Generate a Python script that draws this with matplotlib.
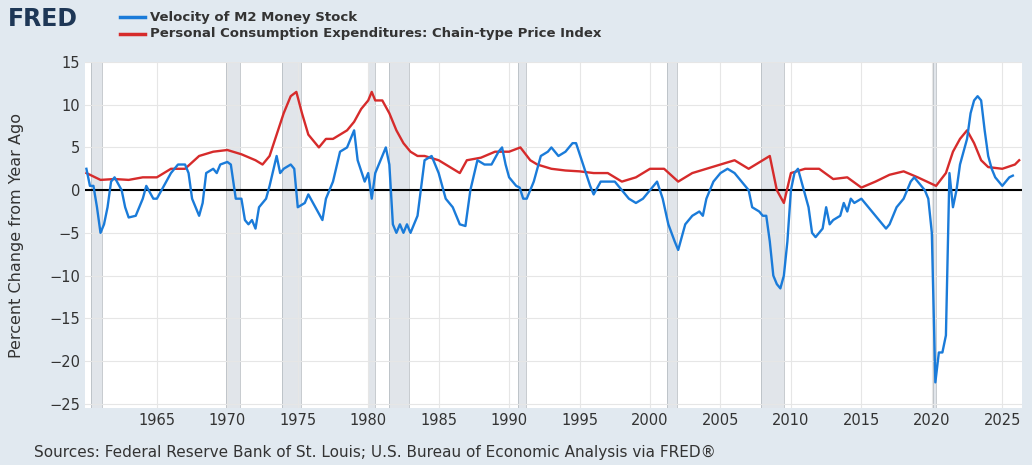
import matplotlib
matplotlib.use("Agg")
import matplotlib.pyplot as plt
import numpy as np

# Velocity of M2, % change from year ago
vel_t = [1960.0, 1960.25, 1960.5, 1960.75, 1961.0, 1961.25, 1961.5, 1961.75, 1962.0, 1962.5, 1962.75, 1963.0, 1963.5,
         1964.0, 1964.25, 1964.75, 1965.0, 1965.5, 1966.0, 1966.5, 1967.0, 1967.25, 1967.5, 1968.0, 1968.25, 1968.5,
         1969.0, 1969.25, 1969.5, 1970.0, 1970.25, 1970.6, 1971.0, 1971.25, 1971.5, 1971.75, 1972.0, 1972.25, 1972.75,
         1973.0, 1973.5, 1973.75, 1974.0, 1974.5, 1974.75, 1975.0, 1975.5, 1975.75, 1976.25, 1976.75, 1977.0, 1977.5,
         1978.0, 1978.5, 1979.0, 1979.25, 1979.75, 1980.0, 1980.25, 1980.5, 1981.0, 1981.25, 1981.5, 1981.75, 1982.0,
         1982.25, 1982.5, 1982.75, 1983.0, 1983.5, 1984.0, 1984.5, 1985.0, 1985.5, 1986.0, 1986.5, 1986.9, 1987.25,
         1987.75, 1988.25, 1988.75, 1989.25, 1989.5, 1989.75, 1990.0, 1990.5, 1990.75, 1991.0, 1991.25, 1991.75,
         1992.25, 1992.75, 1993.0, 1993.5, 1994.0, 1994.5, 1994.75, 1995.25, 1995.75, 1996.0, 1996.5, 1997.0, 1997.5,
         1998.0, 1998.5, 1999.0, 1999.5, 2000.0, 2000.5, 2000.9, 2001.3, 2001.75, 2002.0, 2002.5, 2003.0, 2003.5,
         2003.75, 2004.0, 2004.5, 2005.0, 2005.5, 2006.0, 2006.5, 2007.0, 2007.25, 2007.75, 2008.0, 2008.25, 2008.5,
         2008.75, 2009.0, 2009.25, 2009.5, 2009.75, 2010.0, 2010.25, 2010.5, 2010.75, 2011.25, 2011.5, 2011.75, 2012.0,
         2012.25, 2012.5, 2012.75, 2013.0, 2013.5, 2013.75, 2014.0, 2014.25, 2014.5, 2015.0, 2015.5, 2016.0, 2016.5,
         2016.75, 2017.0, 2017.5, 2018.0, 2018.5, 2018.75, 2019.0, 2019.5, 2019.75, 2020.0, 2020.25, 2020.5, 2020.75,
         2021.0, 2021.25, 2021.5, 2021.75, 2022.0, 2022.5, 2022.75, 2023.0, 2023.25, 2023.5, 2023.75, 2024.0, 2024.25,
         2024.5, 2024.75, 2025.0, 2025.25, 2025.5, 2025.75]
vel_v = [2.5, 0.5, 0.5, -2, -5, -4, -2, 1, 1.5, 0, -2, -3.2, -3, -1, 0.5, -1, -1, 0.5, 2, 3, 3, 2, -1, -3, -1.5, 2,
         2.5, 2, 3, 3.3, 3, -1, -1, -3.5, -4, -3.5, -4.5, -2, -1, 0.5, 4, 2, 2.5, 3, 2.5, -2, -1.5, -0.5, -2, -3.5,
         -1, 1, 4.5, 5, 7, 3.5, 1, 2, -1, 2, 4, 5, 3, -4, -5, -4, -5, -4, -5, -3, 3.5, 4, 2, -1, -2, -4, -4.2, 0,
         3.5, 3, 3, 4.5, 5, 3, 1.5, 0.5, 0.3, -1, -1, 1, 4, 4.5, 5, 4, 4.5, 5.5, 5.5, 3, 0.5, -0.5, 1, 1, 1,
         0, -1, -1.5, -1, 0, 1, -1, -4, -6, -7, -4, -3, -2.5, -3, -1, 1, 2, 2.5, 2, 1, 0, -2, -2.5, -3, -3, -6,
         -10, -11, -11.5, -10, -6, 0, 2, 2.5, 1, -2, -5, -5.5, -5, -4.5, -2, -4, -3.5, -3, -1.5, -2.5, -1, -1.5,
         -1, -2, -3, -4, -4.5, -4, -2, -1, 1, 1.5, 1, 0, -1, -5, -22.5, -19, -19, -17, 2, -2, 0, 3, 6, 9, 10.5, 11,
         10.5, 7, 4, 2.5, 1.5, 1, 0.5, 1, 1.5, 1.7]

# PCE chain-type price index, % change from year ago
pce_t = [1960.0, 1961.0, 1962.0, 1963.0, 1964.0, 1965.0, 1966.0, 1967.0, 1968.0, 1969.0, 1970.0, 1971.0, 1972.0,
         1972.5, 1973.0, 1973.5, 1974.0, 1974.5, 1974.9, 1975.3, 1975.75, 1976.0, 1976.5, 1977.0, 1977.5, 1978.0,
         1978.5, 1979.0, 1979.5, 1980.0, 1980.25, 1980.5, 1981.0, 1981.5, 1982.0, 1982.5, 1983.0, 1983.5, 1984.0,
         1985.0, 1986.0, 1986.5, 1987.0, 1988.0, 1989.0, 1990.0, 1990.8, 1991.5, 1992.0, 1993.0, 1994.0, 1995.0,
         1996.0, 1997.0, 1998.0, 1999.0, 2000.0, 2001.0, 2002.0, 2003.0, 2004.0, 2005.0, 2006.0, 2007.0, 2008.5,
         2009.0, 2009.5, 2010.0, 2011.0, 2012.0, 2013.0, 2014.0, 2015.0, 2016.0, 2017.0, 2018.0, 2019.0, 2020.3,
         2021.0, 2021.5, 2022.0, 2022.5, 2023.0, 2023.5, 2024.0, 2025.0, 2025.9, 2026.2]
pce_v = [2, 1.2, 1.3, 1.2, 1.5, 1.5, 2.5, 2.5, 4, 4.5, 4.7, 4.2, 3.5, 3, 4, 6.5, 9, 11, 11.5, 9, 6.5, 6, 5, 6, 6,
         6.5, 7, 8, 9.5, 10.5, 11.5, 10.5, 10.5, 9, 7, 5.5, 4.5, 4, 4, 3.5, 2.5, 2, 3.5, 3.8, 4.5, 4.5, 5, 3.5, 3,
         2.5, 2.3, 2.2, 2, 2, 1, 1.5, 2.5, 2.5, 1, 2, 2.5, 3, 3.5, 2.5, 4, 0, -1.5, 2, 2.5, 2.5, 1.3, 1.5, 0.3, 1,
         1.8, 2.2, 1.5, 0.5, 2, 4.5, 6, 7, 5.5, 3.5, 2.7, 2.5, 3, 3.5]

recessions = [(1960.3, 1961.1), (1969.9, 1970.9), (1973.9, 1975.2), (1980.0, 1980.5), (1981.5, 1982.9),
              (1990.6, 1991.2), (2001.2, 2001.9), (2007.9, 2009.5), (2020.1, 2020.3)]

BG = "#e1e9f0"
fig = plt.figure(figsize=(10.32, 4.65), dpi=100, facecolor=BG)
ax = fig.add_axes([85/1032, 1 - 408/465, 937/1032, 346/465])
ax.set_facecolor("white")

for a, b in recessions:
    ax.axvspan(a, b, color="#e1e5ea", zorder=0, lw=0)
    ax.axvline(a, color="#b0b6bc", lw=0.5, zorder=0)
    ax.axvline(b, color="#b0b6bc", lw=0.5, zorder=0)

ax.axhline(0, color="black", lw=1.5, zorder=2)
ax.plot(pce_t, pce_v, color="#d62b2b", lw=1.7, zorder=3)
ax.plot(vel_t, vel_v, color="#1a7bd9", lw=1.7, zorder=4)

ax.set_xlim(1959.9, 2026.4)
ax.set_ylim(-25.5, 15)
ax.set_yticks(range(-25, 16, 5))
ax.set_xticks(range(1965, 2026, 5))
ax.grid(True, color="#e6e6e6", lw=0.8, zorder=1)
ax.set_axisbelow(True)
for s in ax.spines.values():
    s.set_visible(False)
ax.tick_params(length=0, labelsize=10.5, colors="#333333")
ax.set_ylabel("Percent Change from Year Ago", fontsize=11.5, color="#333333", labelpad=18)

fig.text(0.008, 0.945, "FRED", fontsize=17, fontweight="bold", color="#1e3756")
fig.add_artist(plt.Line2D([120/1032, 145/1032], [448/465, 448/465], color="#1a7bd9", lw=2.5))
fig.add_artist(plt.Line2D([120/1032, 145/1032], [431/465, 431/465], color="#d62b2b", lw=2.5))
fig.text(150/1032, 448/465, "Velocity of M2 Money Stock", fontsize=9.5, fontweight="bold",
         color="#333333", va="center")
fig.text(150/1032, 431/465, "Personal Consumption Expenditures: Chain-type Price Index", fontsize=9.5,
         fontweight="bold", color="#333333", va="center")
fig.text(34/1032, 8/465, "Sources: Federal Reserve Bank of St. Louis; U.S. Bureau of Economic Analysis via FRED\u00ae",
         fontsize=11, color="#333333")

fig.savefig("out.png", dpi=100, facecolor=BG)
